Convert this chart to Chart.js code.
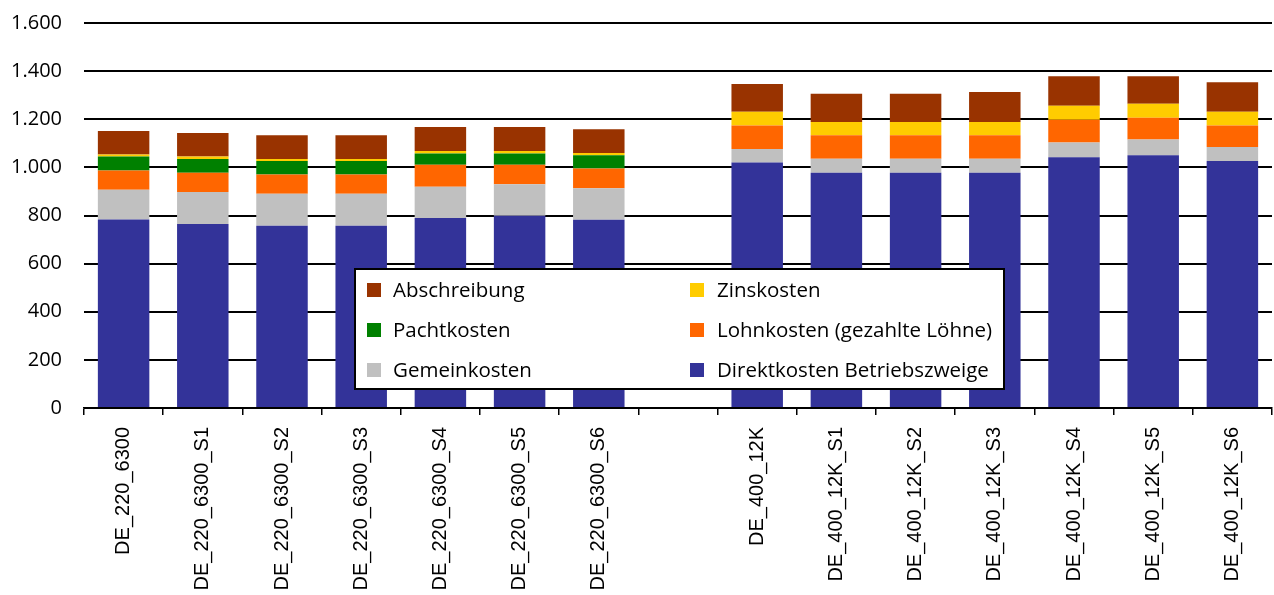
<!DOCTYPE html>
<html>
<head>
<meta charset="utf-8">
<script src="https://cdn.jsdelivr.net/npm/chart.js@4"></script>
<style>
  html, body { margin: 0; padding: 0; background: #fff; }
  #wrap { width: 1274px; height: 595px; }
</style>
</head>
<body>
<div id="wrap"><canvas id="kostenChart" width="1274" height="595"></canvas></div>
<script>
// Kategorien (leere Kategorie als Lücke zwischen den beiden Gruppen)
const categories = [
  "DE_220_6300", "DE_220_6300_S1", "DE_220_6300_S2", "DE_220_6300_S3",
  "DE_220_6300_S4", "DE_220_6300_S5", "DE_220_6300_S6", "",
  "DE_400_12K", "DE_400_12K_S1", "DE_400_12K_S2", "DE_400_12K_S3",
  "DE_400_12K_S4", "DE_400_12K_S5", "DE_400_12K_S6"
];

const direktkosten = [783, 765, 757, 757, 790, 799, 782, null, 1020, 978, 978, 978, 1042, 1050, 1027];
const gemeinkosten = [124, 133, 133, 133, 130, 131, 131, null, 56, 58, 58, 58, 61, 66, 58];
const lohnkosten   = [80, 80, 80, 80, 91, 81, 82, null, 98, 97, 97, 97, 95, 90, 89];
const pachtkosten  = [58, 57, 57, 57, 47, 47, 55, null, 0, 0, 0, 0, 0, 0, 0];
const zinskosten   = [8, 10, 8, 8, 10, 10, 10, null, 57, 56, 56, 56, 58, 58, 57];
const abschreibung = [98, 98, 99, 99, 100, 100, 98, null, 115, 117, 117, 124, 123, 115, 123];

const yTicks = [0, 200, 400, 600, 800, 1000, 1200, 1400, 1600];

const serien = [
  { label: "Direktkosten Betriebszweige", data: direktkosten, color: "#333399" },
  { label: "Gemeinkosten", data: gemeinkosten, color: "#C0C0C0" },
  { label: "Lohnkosten (gezahlte Löhne)", data: lohnkosten, color: "#FF6600" },
  { label: "Pachtkosten", data: pachtkosten, color: "#008000" },
  { label: "Zinskosten", data: zinskosten, color: "#FFCC00" },
  { label: "Abschreibung", data: abschreibung, color: "#993300" }
];

// Zahlen im deutschen Format (1.600)
function deFormat(v) {
  return String(v).replace(/\B(?=(\d{3})+(?!\d))/g, ".");
}

// Legende als Kasten im Diagramm, 2 Spalten, umgekehrte Reihenfolge
const boxLegend = {
  id: "boxLegend",
  afterDatasetsDraw(chart) {
    const ctx = chart.ctx;
    const items = chart.data.datasets.slice().reverse();
    ctx.save();
    ctx.fillStyle = "#fff";
    ctx.fillRect(355, 269, 649, 120);
    ctx.strokeStyle = "#000";
    ctx.lineWidth = 2;
    ctx.strokeRect(355, 269, 649, 120);
    ctx.font = "20.5px 'Open Sans'";
    ctx.textBaseline = "middle";
    ctx.textAlign = "left";
    items.forEach((ds, i) => {
      const col = i % 2;
      const row = Math.floor(i / 2);
      const sx = col === 0 ? 367 : 690;
      const tx = col === 0 ? 393 : 717;
      const cy = 290 + row * 40;
      ctx.fillStyle = ds.backgroundColor;
      ctx.fillRect(sx, cy - 7, 14, 14);
      ctx.fillStyle = "#000";
      ctx.fillText(ds.label, tx, cy + 1);
    });
    ctx.restore();
  }
};

const ctx = document.getElementById("kostenChart").getContext("2d");
new Chart(ctx, {
  type: "bar",
  data: {
    labels: categories,
    datasets: serien.map(s => ({
      label: s.label,
      data: s.data,
      backgroundColor: s.color,
      borderWidth: 0,
      categoryPercentage: 1.0,
      barPercentage: 0.65
    }))
  },
  options: {
    responsive: false,
    animation: false,
    layout: { padding: { top: 23, right: 2, left: 0, bottom: 0 } },
    plugins: {
      legend: { display: false },
      tooltip: { enabled: false }
    },
    scales: {
      x: {
        stacked: true,
        afterFit(scale) {
          scale.height = 187;
          scale.paddingTop = 0;
          scale.paddingBottom = 0;
        },
        border: { display: true, color: "#000", width: 1.5 },
        grid: {
          display: true,
          offset: true,
          drawOnChartArea: false,
          drawTicks: true,
          tickLength: 7,
          lineWidth: 1.5,
          color: "#000"
        },
        ticks: {
          autoSkip: false,
          minRotation: 90,
          maxRotation: 90,
          padding: 12,
          color: "#000",
          font: { family: "'Liberation Sans'", size: 20 }
        }
      },
      y: {
        stacked: true,
        min: 0,
        max: 1600,
        afterFit(scale) {
          scale.width = 84;
          scale.paddingTop = 0;
          scale.paddingBottom = 0;
        },
        afterBuildTicks(scale) { scale.ticks = yTicks.map(v => ({ value: v })); },
        border: { display: false },
        grid: {
          color: "#000",
          lineWidth: 2,
          drawTicks: false
        },
        ticks: {
          padding: 22,
          color: "#000",
          font: { family: "'Open Sans'", size: 20 },
          callback: v => deFormat(v)
        }
      }
    }
  },
  plugins: [boxLegend]
});
</script>
</body>
</html>
